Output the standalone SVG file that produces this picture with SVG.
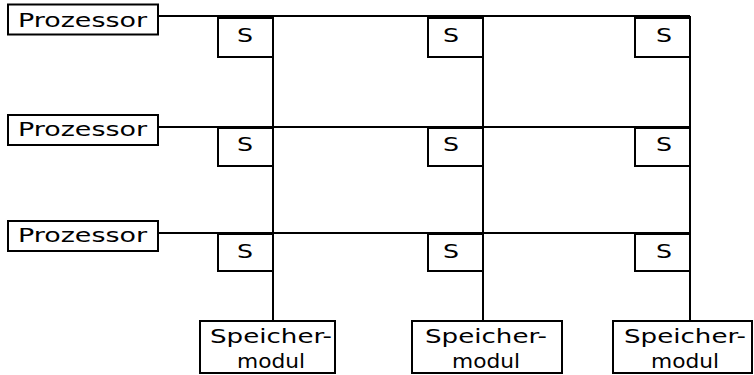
<svg xmlns="http://www.w3.org/2000/svg" width="754" height="375" viewBox="0 0 754 375">
<style>
.box{fill:#fff;stroke:#000;stroke-width:2}
.ln{fill:none;stroke:#000;stroke-width:2}
text{font-family:"DejaVu Sans","Verdana",sans-serif;font-size:19px;fill:#000}
.s{font-size:20px}
</style>
<rect width="754" height="375" fill="#fff"/>
<g id="connectors">
<path class="ln" d="M158 16H690M158 127H690M158 233H690M273 16V321M483 16V321M690 16V321"/>
</g>
<g id="p1"><rect class="box" x="8" y="4.5" width="150" height="30"/><text x="18" y="27" textLength="129" lengthAdjust="spacingAndGlyphs">Prozessor</text></g>
<g id="p2"><rect class="box" x="8" y="115" width="150" height="30"/><text x="18" y="136" textLength="129" lengthAdjust="spacingAndGlyphs">Prozessor</text></g>
<g id="p3"><rect class="box" x="8" y="221" width="150" height="30"/><text x="18" y="242" textLength="129" lengthAdjust="spacingAndGlyphs">Prozessor</text></g>
<g id="s11"><rect class="box" x="218" y="18" width="55" height="39"/><text class="s" x="237" y="42" textLength="16" lengthAdjust="spacingAndGlyphs">S</text></g>
<g id="s12"><rect class="box" x="428" y="18" width="55" height="39"/><text class="s" x="443" y="42" textLength="16" lengthAdjust="spacingAndGlyphs">S</text></g>
<g id="s13"><rect class="box" x="635" y="18" width="55" height="39"/><text class="s" x="656" y="42" textLength="16" lengthAdjust="spacingAndGlyphs">S</text></g>
<g id="s21"><rect class="box" x="218" y="128" width="55" height="38"/><text class="s" x="237" y="151" textLength="16" lengthAdjust="spacingAndGlyphs">S</text></g>
<g id="s22"><rect class="box" x="428" y="128" width="55" height="38"/><text class="s" x="443" y="151" textLength="16" lengthAdjust="spacingAndGlyphs">S</text></g>
<g id="s23"><rect class="box" x="635" y="128" width="55" height="38"/><text class="s" x="656" y="151" textLength="16" lengthAdjust="spacingAndGlyphs">S</text></g>
<g id="s31"><rect class="box" x="218" y="234" width="55" height="37"/><text class="s" x="237" y="258" textLength="16" lengthAdjust="spacingAndGlyphs">S</text></g>
<g id="s32"><rect class="box" x="428" y="234" width="55" height="37"/><text class="s" x="443" y="258" textLength="16" lengthAdjust="spacingAndGlyphs">S</text></g>
<g id="s33"><rect class="box" x="635" y="234" width="55" height="37"/><text class="s" x="656" y="258" textLength="16" lengthAdjust="spacingAndGlyphs">S</text></g>
<g id="m1"><rect class="box" x="200" y="321" width="135" height="52"/><text x="210" y="343" textLength="122" lengthAdjust="spacingAndGlyphs">Speicher-</text><text x="237" y="368" textLength="68" lengthAdjust="spacingAndGlyphs">modul</text></g>
<g id="m2"><rect class="box" x="412" y="321" width="150" height="52"/><text x="425" y="343" textLength="122" lengthAdjust="spacingAndGlyphs">Speicher-</text><text x="452" y="368" textLength="68" lengthAdjust="spacingAndGlyphs">modul</text></g>
<g id="m3"><rect class="box" x="613" y="321" width="139" height="52"/><text x="624" y="343" textLength="122" lengthAdjust="spacingAndGlyphs">Speicher-</text><text x="651" y="368" textLength="68" lengthAdjust="spacingAndGlyphs">modul</text></g>
</svg>
